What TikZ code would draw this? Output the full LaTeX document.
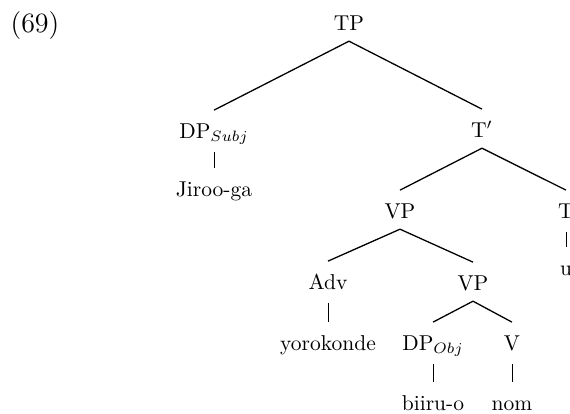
\documentclass[tikz,border=0pt]{standalone}
\usepackage{amsmath}
\usepackage{xcolor}

\tikzset{
    cat/.style={inner xsep=1pt, inner ysep=5pt, text height=1.8ex, text depth=0pt, anchor=base},
    branch/.style={line width=0.6pt},
    unary/.style={line width=0.4pt, shorten <=1.5pt}
}

\begin{document}
\begin{tikzpicture}[x=0.465pt, y=-0.465pt] % pixel grid of the scan

        \useasboundingbox (0,0) rectangle (570,413);

        % Example number
        \node[cat, font=\fontsize{13}{15}\selectfont] (num) at (35,32) {(69)};

        % Top level
        \node[cat] (tp) at (349,30) {TP};
        \node[cat] (dps) at (214,138) {DP$_{Subj}$};
        \node[cat] (tbar) at (482,137) {T$'$};
        \node[cat] (jiroo) at (214,196) {Jiroo-ga};

        \draw[branch] (tp.south) -- (dps.north);
        \draw[branch] (tp.south) -- (tbar.north);
        \draw[unary] (dps.south) -- (jiroo.north);

        % T' and its daughters
        \node[cat] (vp) at (400,218) {VP};
        \node[cat] (t) at (566,218) {T};
        \node[cat] (u) at (566,275) {u};

        \draw[branch] (tbar.south) -- (vp.north);
        \draw[branch] (tbar.south) -- (t.north);
        \draw[unary] (t.south) -- (u.north);

        % Upper VP
        \node[cat] (adv) at (328,289) {Adv};
        \node[cat] (vpb) at (473,290) {VP};
        \node[cat] (yoro) at (328,350) {yorokonde};

        \draw[branch] (vp.south) -- (adv.north);
        \draw[branch] (vp.south) -- (vpb.north);
        \draw[unary] (adv.south) -- (yoro.north);

        % Lower VP
        \node[cat] (dpo) at (433,350) {DP$_{Obj}$};
        \node[cat] (v) at (512,350) {V};
        \node[cat] (biiru) at (433,410) {biiru-o};
        \node[cat] (nom) at (512,410) {nom};

        \draw[branch] (vpb.south) -- (dpo.north);
        \draw[branch] (vpb.south) -- (v.north);
        \draw[unary] (dpo.south) -- (biiru.north);
        \draw[unary] (v.south) -- (nom.north);
    \end{tikzpicture}
\end{document}
